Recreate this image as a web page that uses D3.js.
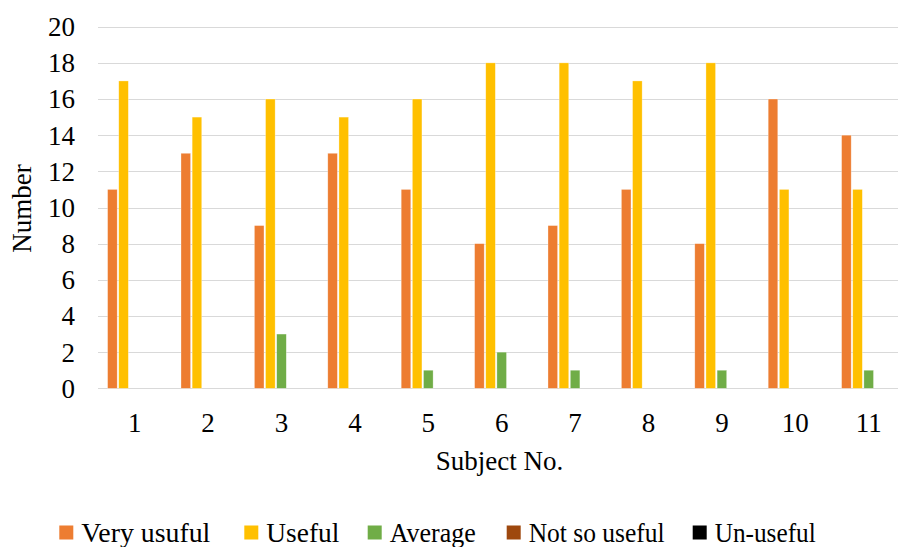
<!DOCTYPE html>
<html>
<head>
<meta charset="utf-8">
<script src="https://cdn.jsdelivr.net/npm/d3@7"></script>
<style>
  html, body { margin: 0; padding: 0; background: #fff; }
  svg { display: block; }
</style>
</head>
<body>
<svg id="chart" width="898" height="547"></svg>
<script>
// ---- data ----
const subjects = ["1","2","3","4","5","6","7","8","9","10","11"];
const seriesNames = ["Very usuful", "Useful", "Average", "Not so useful", "Un-useful"];
const veryUseful  = [11, 13, 9, 13, 11, 8, 9, 11, 8, 16, 14];
const useful      = [17, 15, 16, 15, 16, 18, 18, 17, 18, 11, 11];
const average     = [0, 0, 3, 0, 1, 2, 1, 0, 1, 0, 1];
const notSoUseful = [0, 0, 0, 0, 0, 0, 0, 0, 0, 0, 0];
const unUseful    = [0, 0, 0, 0, 0, 0, 0, 0, 0, 0, 0];
const yTicks = [0, 2, 4, 6, 8, 10, 12, 14, 16, 18, 20];
const colors = ["#ED7D31", "#FFC000", "#70AD47", "#9E480E", "#000000"];

const seriesValues = [veryUseful, useful, average, notSoUseful, unUseful];
const FONT = "'Liberation Serif', 'DejaVu Serif', serif";

// ---- layout ----
const svg = d3.select("#chart");
const plotLeft = 98, plotRight = 905.4, plotTop = 26.7, plotBottom = 388.3;
const legendX = [59.3, 244.3, 367.7, 506.7, 692.7];
const legendTextW = [129, 73, 86, 136, 101];

const x0 = d3.scaleBand().domain(subjects).range([plotLeft, plotRight]).padding(0);
const x1 = d3.scaleBand().domain(seriesNames).range([0, x0.bandwidth()])
  .paddingInner(0.14).paddingOuter(0.86);
const y = d3.scaleLinear().domain([0, 20]).range([plotBottom, plotTop]);

// gridlines
svg.append("g").selectAll("line").data(yTicks).join("line")
  .attr("x1", plotLeft).attr("x2", 898)
  .attr("y1", d => Math.round(y(d)) + 0.5).attr("y2", d => Math.round(y(d)) + 0.5)
  .attr("stroke", "#d9d9d9").attr("stroke-width", 1.2);

// y tick labels
svg.append("g").selectAll("text").data(yTicks).join("text")
  .attr("x", 75).attr("y", d => y(d))
  .attr("dy", "0.35em")
  .attr("text-anchor", "end")
  .style("font-family", FONT).style("font-size", "27px")
  .text(d => d);

// bars
const groups = svg.append("g").selectAll("g").data(subjects).join("g")
  .attr("transform", d => `translate(${x0(d)},0)`);
groups.selectAll("rect")
  .data((d, i) => seriesNames.map((s, j) => ({ s, v: seriesValues[j][i], c: colors[j] })))
  .join("rect")
  .attr("x", d => x1(d.s))
  .attr("width", x1.bandwidth())
  .attr("y", d => y(d.v))
  .attr("height", d => y(0) - y(d.v))
  .attr("fill", d => d.c)
  .attr("stroke", "#fff").attr("stroke-opacity", 0.5).attr("stroke-width", 0.6);

// x tick labels
svg.append("g").selectAll("text").data(subjects).join("text")
  .attr("x", d => x0(d) + x0.bandwidth() / 2)
  .attr("y", 423)
  .attr("dy", "0.35em")
  .attr("text-anchor", "middle")
  .style("font-family", FONT).style("font-size", "27px")
  .text(d => d);

// axis titles
svg.append("text")
  .attr("x", 499.5).attr("y", 461).attr("dy", "0.35em")
  .attr("text-anchor", "middle")
  .style("font-family", FONT).style("font-size", "27px")
  .text("Subject No.");
svg.append("text")
  .attr("transform", "translate(22,208.5) rotate(-90)")
  .attr("dy", "0.35em")
  .attr("text-anchor", "middle")
  .style("font-family", FONT).style("font-size", "27px")
  .text("Number");

// legend
const legend = svg.append("g");
seriesNames.forEach((s, j) => {
  const lx = legendX[j];
  legend.append("rect").attr("x", lx).attr("y", 525.5).attr("width", 14).attr("height", 14)
    .attr("fill", colors[j]);
  legend.append("text").attr("x", lx + 22).attr("y", 532.5).attr("dy", "0.35em")
    .attr("textLength", legendTextW[j]).attr("lengthAdjust", "spacingAndGlyphs")
    .style("font-family", FONT).style("font-size", "27px").text(s);
});
</script>
</body>
</html>
